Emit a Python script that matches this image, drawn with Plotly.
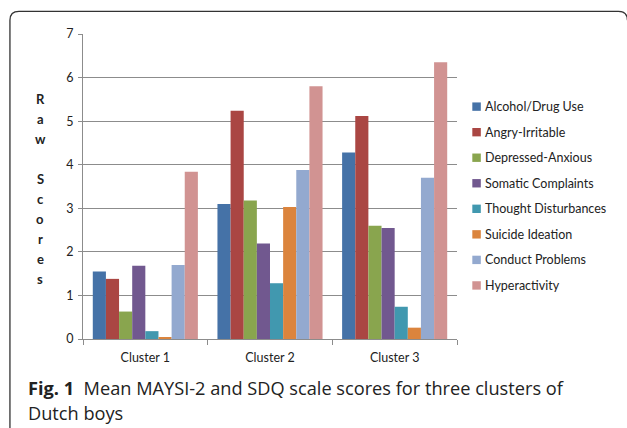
import plotly.graph_objects as go

categories = ["Cluster 1", "Cluster 2", "Cluster 3"]
series_names = ["Alcohol/Drug Use", "Angry-Irritable", "Depressed-Anxious", "Somatic Complaints",
                "Thought Disturbances", "Suicide Ideation", "Conduct Problems", "Hyperactivity"]
alcohol = [1.55, 3.10, 4.28]
angry = [1.38, 5.24, 5.12]
depressed = [0.63, 3.18, 2.60]
somatic = [1.68, 2.19, 2.55]
thought = [0.18, 1.28, 0.74]
suicide = [0.04, 3.03, 0.26]
conduct = [1.70, 3.88, 3.70]
hyper = [3.84, 5.80, 6.35]
series_values = [alcohol, angry, depressed, somatic, thought, suicide, conduct, hyper]
colors = ["#4572A7", "#AA4643", "#89A54E", "#71588F", "#4198AF", "#DB843D", "#93A9CF", "#D19392"]
y_ticks = [0, 1, 2, 3, 4, 5, 6, 7]
y_title = "Raw Scores"
caption_bold = "Fig. 1"
caption_line1 = "Mean MAYSI-2 and SDQ scale scores for three clusters of"
caption_line2 = "Dutch boys"

W, H = 627, 428
L, R, T, B = 83, 456.7, 33.7, 339.0

def px(x):
    return (x - L) / (R - L)

def py(y):
    return (B - y) / (B - T)

fig = go.Figure()
for name, vals, col in zip(series_names, series_values, colors):
    fig.add_trace(go.Bar(x=categories, y=vals, name=name, marker_color=col,
                         marker_line_width=0, showlegend=False))

fig.update_layout(
    width=W, height=H,
    margin=dict(l=L, r=W - R, t=T, b=H - B, pad=0),
    paper_bgcolor="white", plot_bgcolor="white",
    barmode="group", bargap=0.157, bargroupgap=0,
    font=dict(family="Lato", size=12, color="#333333"),
    xaxis=dict(showline=True, linecolor="#8c8c8c", linewidth=1, ticks="outside",
               tickson="boundaries", ticklen=5, tickcolor="#8c8c8c", showgrid=False,
               tickfont=dict(family="Lato", size=12.5, color="#222222"), ticklabelstandoff=7),
    yaxis=dict(range=[0, 7], tickvals=y_ticks, showline=True, linecolor="#8c8c8c",
               linewidth=1, ticks="outside", ticklen=4, tickcolor="#8c8c8c",
               showgrid=True, gridcolor="#8c8c8c", gridwidth=1, zeroline=False,
               tickfont=dict(family="Lato", size=12.5, color="#222222"), ticklabelstandoff=2),
)

# vertical stacked y-axis title, one letter per line
for k, ch in enumerate(y_title):
    if ch.strip():
        fig.add_annotation(text=f"<b>{ch}</b>", xref="paper", yref="paper",
                           x=px(40.5), y=py(99 + 20 * k), xanchor="center", yanchor="middle",
                           showarrow=False, font=dict(family="Lato", size=13, color="#222222"))

# manual legend
for k, (name, col) in enumerate(zip(series_names, colors)):
    yc = 106.4 + 25.57 * k
    fig.add_shape(type="rect", xref="paper", yref="paper",
                  x0=px(472), x1=px(480.5), y0=py(yc - 4.2), y1=py(yc + 4.2),
                  fillcolor=col, line=dict(width=0))
    fig.add_annotation(text=name, xref="paper", yref="paper", x=px(482.5), y=py(yc),
                       xanchor="left", yanchor="middle", showarrow=False,
                       font=dict(family="Lato", size=12.5, color="#222222"))

# caption
fig.add_annotation(text=f"<b>{caption_bold}</b>&nbsp;&nbsp;{caption_line1}",
                   xref="paper", yref="paper", x=px(26), y=py(388.5), xanchor="left", yanchor="middle",
                   showarrow=False, font=dict(family="Open Sans", size=18.2, color="#222222"))
fig.add_annotation(text=caption_line2,
                   xref="paper", yref="paper", x=px(26), y=py(413), xanchor="left", yanchor="middle",
                   showarrow=False, font=dict(family="Open Sans", size=18.2, color="#222222"))

# rounded frame
x0, y0, x1, y1, r = 10, 11, 627, 440, 9
path = (f"M {px(x0)},{py(y1)} L {px(x0)},{py(y0 + r)} "
        f"Q {px(x0)},{py(y0)} {px(x0 + r)},{py(y0)} L {px(x1 - r)},{py(y0)} "
        f"Q {px(x1)},{py(y0)} {px(x1)},{py(y0 + r)}")
fig.add_shape(type="path", path=path, xref="paper", yref="paper",
              line=dict(color="#333333", width=1.3))

fig.write_html("out.html", config={"displayModeBar": False},
               post_script="document.body.style.margin='0';document.body.style.overflow='hidden';")
